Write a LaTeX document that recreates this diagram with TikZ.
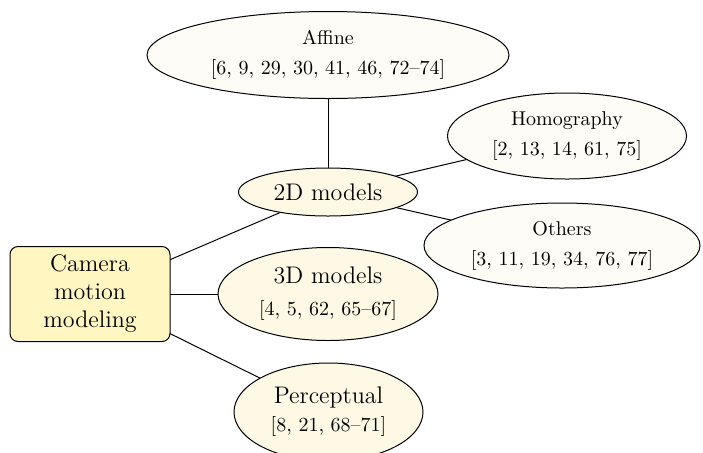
\documentclass[tikz,border=0pt]{standalone}
\usetikzlibrary{shapes.geometric,backgrounds}
\definecolor{boxfill}{HTML}{FFF6C2}
\definecolor{lvlone}{HTML}{FDF9E4}
\definecolor{lvltwo}{HTML}{FEFCF6}
\begin{document}
\begin{tikzpicture}[x=0.5pt,y=-0.5pt,
  rootbox/.style={draw=black, fill=boxfill, rounded corners=4pt, minimum width=80pt, minimum height=47.5pt, align=center, font=\large, inner sep=0pt, line width=0.5pt},
  catnode/.style={ellipse, draw=black, fill=lvlone, align=center, inner sep=0pt, line width=0.5pt},
  subnode/.style={ellipse, draw=black, fill=lvltwo, align=center, inner sep=0pt, line width=0.5pt},
  link/.style={draw=black, line width=0.5pt}]
\useasboundingbox (0,0) rectangle (703,452);
\node[rootbox] (root) at (90,294) {Camera\\motion\\modeling};
\node[catnode, minimum width=89.5pt, minimum height=24pt, font=\large] (twod) at (328,192) {2D models};
\node[catnode, minimum width=110pt, minimum height=46.5pt] (threed) at (328,294) {{\large 3D models}\\[4pt]{[4, 5, 62, 65--67]}};
\node[catnode, minimum width=94.5pt, minimum height=49pt] (percep) at (328.5,412) {{\large Perceptual}\\[2pt]{[8, 21, 68--71]}};
\node[subnode, minimum width=181pt, minimum height=43.5pt] (affine) at (328,55) {Affine\\[3pt]{[6, 9, 29, 30, 41, 46, 72--74]}};
\node[subnode, minimum width=119.5pt, minimum height=43pt] (homog) at (567,136) {Homography\\[3pt]{[2, 13, 14, 61, 75]}};
\node[subnode, minimum width=138pt, minimum height=42.5pt] (others) at (562,245.5) {Others\\[3pt]{[3, 11, 19, 34, 76, 77]}};
\begin{scope}[on background layer]
  \draw[link] (root.center) -- (twod.center);
  \draw[link] (root.center) -- (threed.center);
  \draw[link] (root.center) -- (percep.center);
  \draw[link] (twod.center) -- (affine.center);
  \draw[link] (twod.center) -- (homog.center);
  \draw[link] (twod.center) -- (others.center);
\end{scope}
\end{tikzpicture}
\end{document}
